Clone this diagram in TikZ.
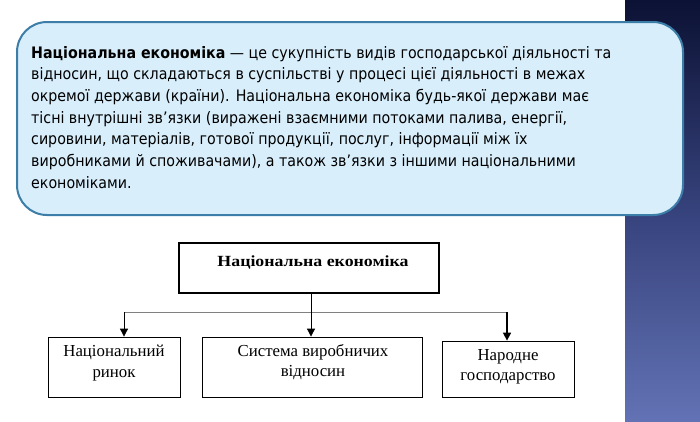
\documentclass[tikz,border=0pt]{standalone}
\usepackage{fontspec}
\usepackage{graphicx}
\setmainfont{Liberation Serif}
\newfontfamily\bodyfont{DejaVu Sans Condensed}
\usetikzlibrary{arrows.meta}
\definecolor{boxfill}{HTML}{D8EEFB}
\definecolor{boxedge}{HTML}{3C7EA8}
\definecolor{stripTop}{HTML}{0C1234}
\definecolor{stripMid}{HTML}{36427C}
\definecolor{stripBot}{HTML}{6272B4}
\definecolor{hline}{HTML}{808080}
\tikzset{
  txtline/.style={anchor=base west,inner sep=0pt,font=\bodyfont\fontsize{15.8}{18}\selectfont},
  sbox/.style={draw=black,line width=0.8pt,inner sep=0pt},
  stext/.style={inner sep=0pt,align=center,font=\fontsize{16.8}{20.5}\selectfont},
  tbox/.style={draw=black,line width=1.6pt,inner sep=0pt},
  arr/.style={draw=black,line width=0.8pt,-{Triangle[width=8pt,length=8pt]}},
}
\begin{document}
\begin{tikzpicture}[x=1pt,y=-1pt]
\useasboundingbox (0,0) rectangle (700,421);
\fill[white] (0,0) rectangle (700,421);
% right strip
\shade[top color=stripTop,bottom color=stripBot,middle color=stripMid] (625,0) rectangle (700,421);
% definition box
\draw[fill=boxfill,draw=boxedge,line width=2pt,rounded corners=30pt] (17,22) rectangle (683,215);
\node[txtline] (l1) at (31,58) {\textbf{Національна економіка} — це сукупність видів господарської діяльності та};
\node[txtline] (l2) at (31,79.7) {відносин, що складаються в суспільстві у процесі цієї діяльності в межах};
\node[txtline] (l3) at (31,101.3) {окремої держави (країни). Національна економіка будь-якої держави має};
\node[txtline] (l4) at (31,123) {тісні внутрішні зв’язки (виражені взаємними потоками палива, енергії,};
\node[txtline] (l5) at (31,144.7) {сировини, матеріалів, готової продукції, послуг, інформації між їх};
\node[txtline] (l6) at (31,166.3) {виробниками й споживачами), а також зв’язки з іншими національними};
\node[txtline] (l7) at (31,188) {економіками.};
% diagram
\node[tbox,minimum width=260pt,minimum height=50pt] (top) at (309,268) {};
\node[inner sep=0pt,font=\bfseries\fontsize{15.5}{18}\selectfont] (toptxt) at (313,262) {\scalebox{1.15}[1]{Національна економіка}};
\node[sbox,minimum width=132pt,minimum height=60pt] (b1) at (114,367) {};
\node[sbox,minimum width=220pt,minimum height=60pt] (b2) at (312,367) {};
\node[sbox,minimum width=132pt,minimum height=56pt] (b3) at (508,369) {};
\node[stext] (t1) at (114,363) {Національний\\ринок};
\node[stext] (t2) at (313,362) {Система виробничих\\відносин};
\node[stext] (t3) at (508,367) {Народне\\господарство};
\coordinate (hl) at (124,312);
\coordinate (hr) at (507,312);
\draw[hline,line width=0.8pt] (hl) -- (hr);
\draw[arr] (hl) -- (hl |- b1.north);
\draw[arr] (top.south -| 311,0) -- (311,0 |- b2.north);
\draw[arr,line width=1.6pt] (hr) -- (hr |- b3.north);
\end{tikzpicture}
\end{document}
